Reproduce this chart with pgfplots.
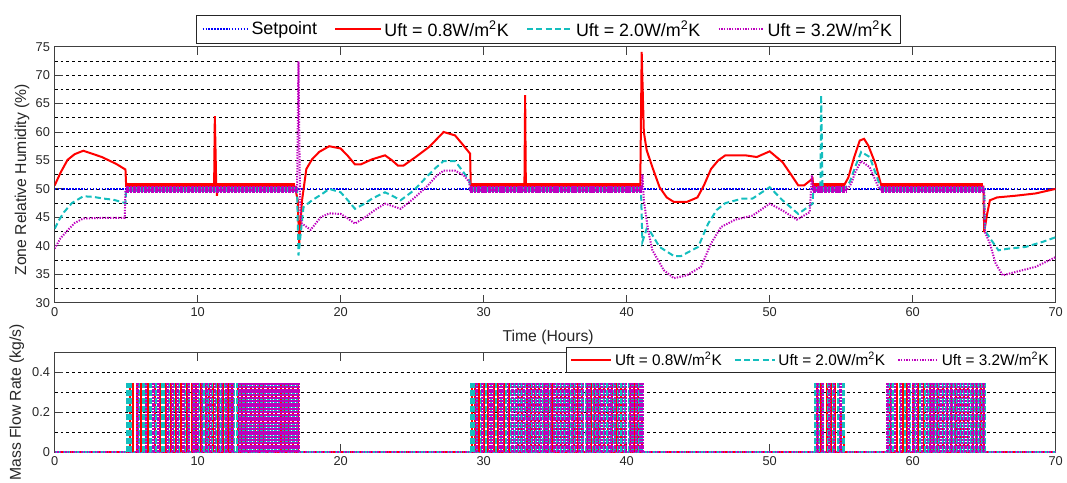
\documentclass[border=0pt]{standalone}
\usepackage{fontspec}
\setmainfont{Liberation Sans}
\usepackage{pgfplots}
\pgfplotsset{compat=1.18}

\definecolor{mred}{RGB}{255,0,0}
\definecolor{mcyan}{RGB}{20,190,190}
\definecolor{mmag}{RGB}{190,0,190}
\definecolor{mblue}{RGB}{0,0,255}

\pgfplotsset{
  matlab/.style={
    scale only axis, width=750.75pt, xmin=0, xmax=70, xtick={0,10,...,70},
    tick align=inside, major tick length=6pt, minor tick length=0pt,
    axis line style={black!75, line width=0.6pt},
    every tick/.style={black!75, line width=0.6pt},
    tick label style={font=\fontsize{9.6}{11}\selectfont, text=black!85},
    /pgf/number format/assume math mode=true,
    major grid style={black, line width=0.45pt, dash pattern=on 2.2pt off 2.2pt},
    minor grid style={black, line width=0.45pt, dash pattern=on 2.2pt off 2.2pt},
    label style={font=\fontsize{11.8}{13}\selectfont, text=black!85},
    legend cell align=left,
  },
  sp/.style={mblue, line width=1.4pt, dash pattern=on 1.1pt off 1.1pt},
  r08/.style={mred, line width=1.5pt},
  c20/.style={mcyan, line width=1.5pt, dash pattern=on 4.5pt off 2.5pt},
  m32/.style={mmag, line width=1.5pt, dash pattern=on 1pt off 1pt},
}

\begin{document}
\begin{tikzpicture}
% lower panel: mass flow rate
\begin{axis}[matlab, name=bot, height=74.7pt, at={(0pt,0pt)}, anchor=south west,
  ymin=0, ymax=0.5, ytick={0,0.2,0.4}, yticklabels={0,0.2,0.4}, minor ytick={0.1,0.3},
  ymajorgrids, yminorgrids,
  ylabel={Mass Flow Rate (kg/s)},
  ylabel style={at={(axis description cs:-0.0377,0.5)}, anchor=center},
  legend image code/.code={\draw[#1] (0pt,0pt) -- (30pt,0pt);},
  legend style={at={(1,1)}, anchor=north east, yshift=4pt, legend columns=3,
    draw=black!85, line width=0.6pt, fill=white, inner xsep=3pt, inner ysep=1.5pt,
    font=\fontsize{11.5}{13}\selectfont,
    /tikz/every even column/.append style={column sep=7pt}},
]
\addplot[r08] coordinates {(0,0) (70,0)};
\addlegendentry{Uft = 0.8W/m\textsuperscript{2}K}
\addplot[c20] coordinates {(0,0) (70,0)};
\addlegendentry{Uft = 2.0W/m\textsuperscript{2}K}
\addplot[m32] coordinates {(0,0) (70,0)};
\addlegendentry{Uft = 3.2W/m\textsuperscript{2}K}
\addplot[ycomb, mred, line width=1.5pt, forget plot] coordinates {(5.3,0.35) (5.5,0.35) (5.75,0.35) (6.05,0.35) (6.5,0.35) (7.0,0.35) (7.35,0.35) (7.8,0.35) (8.15,0.35) (8.5,0.35) (8.85,0.35) (9.25,0.35) (9.6,0.35) (9.9,0.35) (10.2,0.35) (10.55,0.35) (10.8,0.35) (11.1,0.35) (11.45,0.35) (11.8,0.35) (12.1,0.35) (12.4,0.35) (12.8,0.35) (13.1,0.35) (13.4,0.35) (13.7,0.35) (14.0,0.35) (14.3,0.35) (14.6,0.35) (14.9,0.35) (15.2,0.35) (15.5,0.35) (15.8,0.35) (16.1,0.35) (16.4,0.35) (16.7,0.35) (17.0,0.35)
 (29.2,0.35) (29.4,0.35) (29.65,0.35) (30.0,0.35) (30.3,0.35) (30.7,0.35) (31.0,0.35) (31.4,0.35) (31.8,0.35) (32.4,0.35) (32.7,0.35) (33.0,0.35) (33.3,0.35) (33.6,0.35) (33.9,0.35) (34.2,0.35) (34.5,0.35) (34.8,0.35) (35.1,0.35) (35.4,0.35) (35.7,0.35) (36.0,0.35) (36.3,0.35) (36.6,0.35) (36.9,0.35) (37.2,0.35) (37.5,0.35) (37.8,0.35) (38.1,0.35) (38.4,0.35) (38.7,0.35) (39.0,0.35) (39.3,0.35) (39.6,0.35) (39.9,0.35) (40.2,0.35) (40.5,0.35) (40.8,0.35) (41.05,0.17)
 (53.3,0.35) (53.6,0.35) (54.0,0.35) (54.3,0.35) (54.6,0.35) (55.0,0.2) (55.2,0.08)
 (58.4,0.35) (58.9,0.35) (59.3,0.35) (59.6,0.35) (60.0,0.35) (60.4,0.35) (60.8,0.35) (61.2,0.35) (61.5,0.35) (61.8,0.35) (62.1,0.35) (62.4,0.35) (62.7,0.35) (63.0,0.35) (63.3,0.35) (63.6,0.35) (63.9,0.35) (64.2,0.35) (64.5,0.35) (64.8,0.35) (65.0,0.35)};
\addplot[ycomb, mcyan, line width=1.8pt, dash pattern=on 4.5pt off 1.5pt, forget plot] coordinates {(5.1,0.35) (5.2,0.35) (5.35,0.35) (5.9,0.35) (6.2,0.35) (6.35,0.35) (6.7,0.35) (7.1,0.35) (7.5,0.35) (7.65,0.35) (8.0,0.35) (8.35,0.35) (8.7,0.35) (9.1,0.35) (9.4,0.35) (9.75,0.35) (10.1,0.35) (10.4,0.35) (10.7,0.35) (11.0,0.35) (11.3,0.35) (11.6,0.35) (11.95,0.35) (12.25,0.35) (12.55,0.35) (12.75,0.35) (12.95,0.35) (13.2,0.35) (13.45,0.35) (13.7,0.35) (13.95,0.35) (14.2,0.35) (14.45,0.35) (14.7,0.35) (14.95,0.35) (15.2,0.35) (15.45,0.35) (15.7,0.35) (15.95,0.35) (16.2,0.35) (16.45,0.35) (16.7,0.35) (16.95,0.35)
 (29.1,0.35) (29.3,0.35) (29.55,0.35) (29.8,0.35) (30.15,0.35) (30.5,0.35) (30.85,0.35) (31.2,0.35) (31.55,0.35) (31.9,0.35) (32.15,0.35) (32.4,0.35) (32.65,0.35) (32.9,0.35) (33.15,0.35) (33.4,0.35) (33.65,0.35) (33.9,0.35) (34.15,0.35) (34.4,0.35) (34.65,0.35) (34.9,0.35) (35.15,0.35) (35.4,0.35) (35.65,0.35) (35.9,0.35) (36.15,0.35) (36.4,0.35) (36.65,0.35) (36.9,0.35) (37.15,0.35) (37.4,0.35) (37.65,0.35) (37.9,0.35) (38.15,0.35) (38.4,0.35) (38.65,0.35) (38.9,0.35) (39.15,0.35) (39.4,0.35) (39.65,0.35) (39.9,0.35) (40.15,0.35) (40.4,0.35) (40.65,0.35) (40.9,0.35) (41.05,0.35)
 (53.2,0.35) (53.45,0.35) (53.75,0.35) (54.1,0.35) (54.45,0.35) (54.8,0.35) (55.15,0.35)
 (58.3,0.35) (58.6,0.35) (59.1,0.35) (59.45,0.35) (59.8,0.35) (60.15,0.35) (60.5,0.35) (60.85,0.35) (61.1,0.35) (61.35,0.35) (61.6,0.35) (61.85,0.35) (62.1,0.35) (62.35,0.35) (62.6,0.35) (62.85,0.35) (63.1,0.35) (63.35,0.35) (63.6,0.35) (63.85,0.35) (64.1,0.35) (64.35,0.35) (64.6,0.35) (64.85,0.35) (65.05,0.35)};
\addplot[ycomb, mmag, line width=1.9pt, dash pattern=on 1.5pt off 0.6pt, forget plot] coordinates {(5.8,0.35) (6.4,0.35) (6.9,0.35) (7.25,0.35) (7.9,0.35) (8.25,0.35) (8.6,0.35) (9.0,0.35) (9.35,0.35) (9.7,0.35) (9.85,0.35) (10.0,0.35) (10.3,0.35) (10.6,0.35) (10.9,0.35) (11.2,0.35) (11.5,0.35) (11.7,0.35) (12.0,0.35) (12.3,0.35) (12.45,0.35) (12.9,0.35) (13.05,0.35) (13.2,0.35) (13.35,0.35) (13.5,0.35) (13.65,0.35) (13.8,0.35) (13.95,0.35) (14.1,0.35) (14.25,0.35) (14.4,0.35) (14.55,0.35) (14.7,0.35) (14.85,0.35) (15.0,0.35) (15.15,0.35) (15.3,0.35) (15.45,0.35) (15.6,0.35) (15.75,0.35) (15.9,0.35) (16.05,0.35) (16.2,0.35) (16.35,0.35) (16.5,0.35) (16.65,0.35) (16.8,0.35) (16.95,0.35) (17.05,0.35)
 (29.5,0.35) (29.9,0.35) (30.4,0.35) (30.6,0.35) (31.1,0.35) (31.3,0.35) (31.7,0.35) (32.0,0.35) (32.3,0.35) (32.55,0.35) (32.8,0.35) (33.05,0.35) (33.25,0.35) (33.5,0.35) (33.75,0.35) (34.0,0.35) (34.25,0.35) (34.45,0.35) (34.7,0.35) (34.95,0.35) (35.25,0.35) (35.5,0.35) (35.75,0.35) (35.95,0.35) (36.2,0.35) (36.45,0.35) (36.7,0.35) (36.95,0.35) (37.25,0.35) (37.45,0.35) (37.7,0.35) (37.95,0.35) (38.25,0.35) (38.5,0.35) (38.75,0.35) (38.95,0.35) (39.2,0.35) (39.45,0.35) (39.75,0.35) (39.95,0.35) (40.25,0.35) (40.45,0.35) (40.7,0.35) (40.95,0.35) (41.1,0.35)
 (53.35,0.35) (53.7,0.35) (54.2,0.35) (54.5,0.35) (54.95,0.35)
 (58.25,0.35) (58.5,0.35) (58.75,0.35) (59.2,0.35) (59.7,0.35) (60.05,0.35) (60.3,0.35) (60.65,0.35) (61.0,0.35) (61.25,0.35) (61.45,0.35) (61.7,0.35) (61.95,0.35) (62.2,0.35) (62.45,0.35) (62.7,0.35) (62.95,0.35) (63.2,0.35) (63.45,0.35) (63.7,0.35) (63.95,0.35) (64.2,0.35) (64.45,0.35) (64.7,0.35) (64.95,0.35)};
\end{axis}

% upper panel: zone relative humidity
\begin{axis}[matlab, name=top, height=192pt, at={(0pt,112.2pt)}, anchor=south west,
  ymin=30, ymax=75, ytick={30,35,...,75}, minor ytick={32.5,37.5,...,72.5},
  ymajorgrids, yminorgrids, unbounded coords=jump,
  xlabel={Time (Hours)}, ylabel={Zone Relative Humidity (\%)},
  xlabel style={at={(axis description cs:0.493,-0.135)}, anchor=center},
  ylabel style={at={(axis description cs:-0.0326,0.48)}, anchor=center},
  legend image code/.code={\draw[#1] (0pt,0pt) -- (34pt,0pt);},
  legend style={at={(0.493,1)}, anchor=south, yshift=2.5pt, legend columns=4,
    draw=black!85, line width=0.6pt, fill=white, inner xsep=4pt, inner ysep=1.5pt,
    font=\fontsize{13.4}{15}\selectfont,
    /tikz/every even column/.append style={column sep=11pt}},
]
\addplot[sp] coordinates {(0,50) (70,50)};
\addlegendentry{Setpoint}
% noise bands while the controller is switching
\addplot[mred, line width=4.7pt, forget plot] coordinates {(5.0,50.45) (16.8,50.45) (16.8,nan) (29.1,50.45) (41.0,50.45) (41.0,nan) (53.05,50.45) (55.2,50.45) (55.2,nan) (57.8,50.45) (64.95,50.45)};
\addplot[r08] coordinates {(0,50.6) (0.4,52.8) (0.9,55.1) (1.4,56.1) (2.0,56.7) (2.6,56.2) (3.3,55.6) (4.3,54.4) (4.95,53.4) (5.0,50.5) (11.15,50.5) (11.2,62.8) (11.3,50.5) (11.35,48.8) (11.4,50.5) (16.8,50.4) (17.0,48) (17.1,40.4) (17.3,48) (17.6,53.5) (18.0,55.2) (18.5,56.5) (19.2,57.5) (20.0,57.1) (20.5,55.8) (21.0,54.3) (21.4,54.3) (22.2,55.2) (23.1,55.9) (23.6,55.0) (24.0,54.1) (24.4,54.1) (25.3,55.7) (26.2,57.4) (26.7,58.7) (27.2,60.0) (28.0,59.4) (28.5,57.9) (29.05,56.2) (29.1,50.6) (32.85,50.5) (32.9,66.5) (32.95,50.5) (40.95,50.4) (41.05,74.1) (41.2,60.0) (41.4,56.8) (41.8,53.8) (42.3,50.3) (42.8,48.5) (43.3,47.7) (44.2,47.7) (44.95,48.5) (45.4,50.6) (45.9,53.5) (46.4,55.0) (46.9,55.9) (48.3,55.9) (49.1,55.6) (50.0,56.6) (50.9,54.7) (51.5,52.5) (52.0,50.6) (52.4,50.6) (53.0,51.8) (53.05,50.3) (55.2,50.6) (55.5,52.0) (55.9,55.5) (56.3,58.5) (56.6,58.8) (56.9,57.6) (57.4,54.4) (57.8,50.6) (64.95,50.4) (65.0,42.4) (65.2,45.5) (65.4,48.0) (65.9,48.5) (67.2,48.8) (68.6,49.2) (70,50.0)};
\addlegendentry{Uft = 0.8W/m\textsuperscript{2}K}
\addplot[mcyan, line width=4pt, forget plot] coordinates {(5.0,49.95) (16.95,49.95) (16.95,nan) (29.05,49.95) (41.0,49.95) (41.0,nan) (53.05,49.95) (55.3,49.95) (55.3,nan) (57.8,49.95) (65.0,49.95)};
\addplot[c20] coordinates {(0,43.0) (0.3,44.5) (0.65,45.9) (1.2,47.5) (2.0,48.7) (2.7,48.6) (3.4,48.3) (4.1,48.1) (4.95,47.5) (5.0,50.0) (16.95,50.0) (17.05,38.3) (17.2,42) (17.4,46.8) (18.0,48.0) (18.7,49.1) (19.2,50.0) (20.0,49.4) (20.5,48.0) (21.0,46.5) (21.6,47.3) (22.2,48.3) (23.1,49.4) (23.6,48.8) (24.2,48.0) (25.1,49.7) (25.6,51.0) (26.0,52.1) (26.6,53.6) (27.2,54.9) (28.0,54.9) (28.6,52.9) (29.0,51.5) (29.05,50.0) (41.0,50.0) (41.1,40.7) (41.4,43.0) (41.6,42.7) (42.3,39.8) (43.3,38.2) (43.8,38.2) (45.0,39.8) (45.7,43.9) (46.3,46.3) (46.9,47.5) (48.1,48.3) (48.8,48.3) (50.0,50.3) (50.9,48.0) (52.0,45.6) (53.0,47.4) (53.05,50.0) (53.55,50.0) (53.6,66.5) (53.7,50.0) (55.3,50.2) (55.6,51.2) (56.0,54.0) (56.4,56.5) (57.0,55.6) (57.5,52.1) (57.8,50.0) (65.0,50.0) (65.05,42.7) (65.5,41.0) (66.0,39.2) (66.7,39.5) (67.9,39.8) (69.1,40.7) (70,41.5)};
\addlegendentry{Uft = 2.0W/m\textsuperscript{2}K}
\addplot[mmag, line width=5.5pt, dash pattern=on 2pt off 0.7pt, forget plot] coordinates {(5.0,49.95) (16.95,49.95) (16.95,nan) (29.05,49.95) (41.05,49.95) (41.05,nan) (53.05,49.95) (55.4,49.95) (55.4,nan) (57.8,49.95) (65.0,49.95)};
\addplot[m32] coordinates {(0,39.5) (0.4,41.3) (0.9,42.7) (1.4,44.0) (2.0,44.8) (3.4,44.9) (4.9,44.9) (4.95,49.8) (16.95,49.8) (17.05,72.4) (17.15,49.8) (17.2,45) (17.3,43.9) (17.9,42.8) (18.6,45.0) (19.2,45.7) (20.0,45.6) (20.5,44.8) (21.0,43.9) (21.7,45.0) (22.4,46.3) (23.1,47.4) (23.6,47.0) (24.2,46.5) (25.1,48.3) (26.1,50.6) (26.7,52.3) (27.2,53.2) (28.0,53.2) (28.6,52.4) (29.0,51.2) (29.05,49.8) (41.05,49.8) (41.1,52.6) (41.2,48.0) (41.5,42.7) (41.8,39.2) (42.6,35.7) (43.3,34.3) (44.2,34.8) (45.2,36.3) (45.9,40.4) (46.6,43.3) (47.6,44.6) (48.8,45.3) (50.0,47.4) (50.9,46.2) (51.9,44.6) (52.8,45.9) (52.95,52.4) (53.05,49.8) (55.4,49.8) (55.7,50.9) (56.0,53.0) (56.4,54.9) (57.0,53.8) (57.6,50.3) (57.8,49.8) (65.0,49.8) (65.05,42.4) (65.4,40.4) (65.8,36.9) (66.3,34.8) (67.2,35.4) (68.6,36.3) (70,38.0)};
\addlegendentry{Uft = 3.2W/m\textsuperscript{2}K}
\end{axis}
\pgfresetboundingbox
\path[use as bounding box] (-41pt,-22.3pt) rectangle (759.25pt,339.2pt);
\end{tikzpicture}
\end{document}
